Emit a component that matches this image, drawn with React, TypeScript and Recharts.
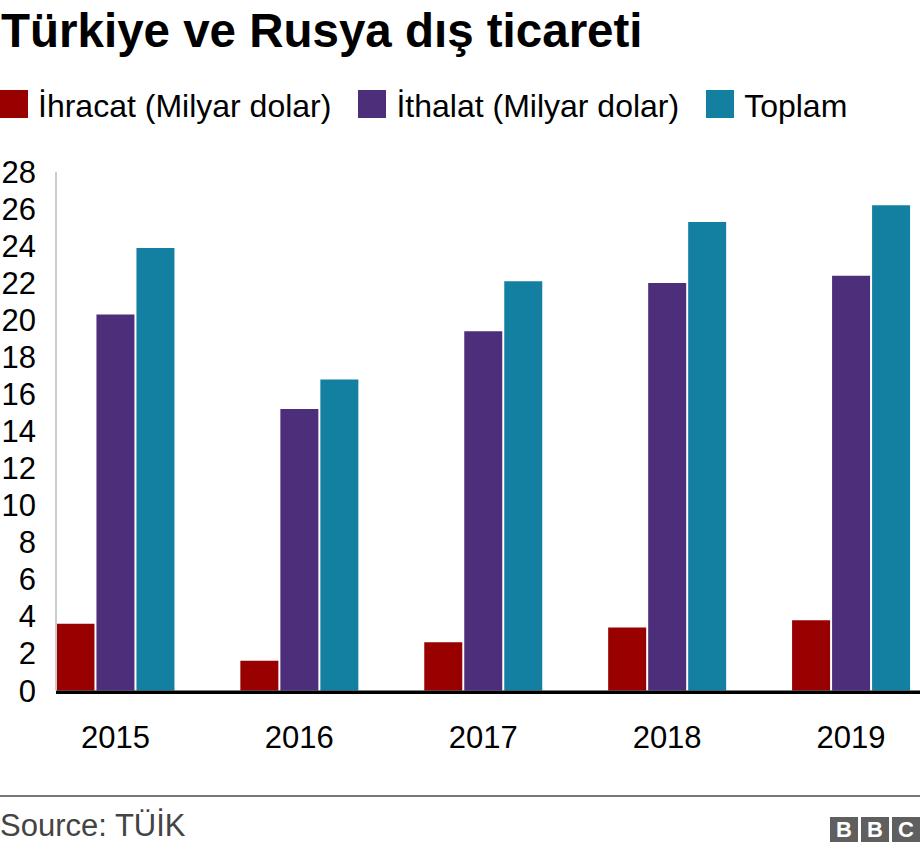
import { BarChart, Bar, XAxis, YAxis, ReferenceLine } from "recharts"

const years = [2015, 2016, 2017, 2018, 2019]
const ihracat = [3.6, 1.6, 2.6, 3.4, 3.8]
const ithalat = [20.3, 15.2, 19.4, 22.0, 22.4]
const toplam = [23.9, 16.8, 22.1, 25.3, 26.2]
const yTicks = [0, 2, 4, 6, 8, 10, 12, 14, 16, 18, 20, 22, 24, 26, 28]

const SERIES = [
  { key: "ihracat", name: "İhracat (Milyar dolar)", color: "#990000" },
  { key: "ithalat", name: "İthalat (Milyar dolar)", color: "#4d2e7a" },
  { key: "toplam", name: "Toplam", color: "#1380a1" },
]

const FONT = "'Liberation Sans', Arial, Helvetica, sans-serif"

const data = years.map((year, i) => ({
  year,
  ihracat: ihracat[i],
  ithalat: ithalat[i],
  toplam: toplam[i],
}))

// thick black zero line, sitting just under the bars
const Baseline = (props: any) => (
  <line x1={props.x1} x2={props.x2} y1={props.y1 + 1.8} y2={props.y2 + 1.8} stroke="#000" strokeWidth={3.4} />
)

export default function App() {
  return (
    <div style={{ position: "absolute", left: 0, top: 0, width: 920, height: 852, background: "#fff", fontFamily: FONT, overflow: "hidden" }}>
      <BarChart
        width={920}
        height={852}
        data={data}
        margin={{ top: 172, right: 0, bottom: 0, left: 0 }}
        barSize={38}
        barGap={2}
        style={{ position: "absolute", left: 0, top: 0 }}
      >
        <YAxis
          domain={[0, 28]}
          ticks={yTicks}
          interval={0}
          width={56}
          tickSize={0}
          tickMargin={20}
          tickLine={false}
          axisLine={{ stroke: "#cccccc", strokeWidth: 2 }}
          tick={{ fontSize: 31, fill: "#000", fontFamily: FONT }}
        />
        <XAxis
          dataKey="year"
          type="number"
          domain={[2014.677, 2019.375]}
          ticks={years}
          interval={0}
          height={161.5}
          tickSize={0}
          tickMargin={35}
          tickLine={false}
          axisLine={false}
          tick={{ fontSize: 31, fill: "#000", fontFamily: FONT }}
        />
        {SERIES.map(s => (
          <Bar key={s.key} dataKey={s.key} name={s.name} fill={s.color} isAnimationActive={false} />
        ))}
        <ReferenceLine y={0} shape={Baseline} />
      </BarChart>

      <div style={{ position: "absolute", left: 1, top: 7, fontSize: 47.5, lineHeight: "48px", fontWeight: "bold", color: "#000", whiteSpace: "nowrap" }}>
        Türkiye ve Rusya dış ticareti
      </div>

      <div style={{ position: "absolute", left: 0, top: 90, display: "flex", alignItems: "flex-start", whiteSpace: "nowrap" }}>
        {SERIES.map(s => (
          <div key={s.key} style={{ display: "flex", alignItems: "flex-start", marginRight: 27 }}>
            <div style={{ width: 28, height: 28, background: s.color, marginRight: 10 }} />
            <span style={{ fontSize: 32, lineHeight: "32px", marginTop: -0.5, color: "#000" }}>{s.name}</span>
          </div>
        ))}
      </div>

      <div style={{ position: "absolute", left: 0, top: 795, width: 920, height: 2, background: "#777" }} />
      <div style={{ position: "absolute", left: 0, top: 810, fontSize: 31, lineHeight: "31px", color: "#444", whiteSpace: "nowrap" }}>
        Source: TÜİK
      </div>
      <div style={{ position: "absolute", left: 830, top: 817, display: "flex" }}>
        {["B", "B", "C"].map((c, i) => (
          <div
            key={i}
            style={{
              width: 28, height: 25, marginRight: i < 2 ? 3 : 0, background: "#5f5f5f", color: "#fff",
              fontSize: 22, lineHeight: "25px", fontWeight: "bold", textAlign: "center",
            }}
          >
            {c}
          </div>
        ))}
      </div>
    </div>
  )
}
